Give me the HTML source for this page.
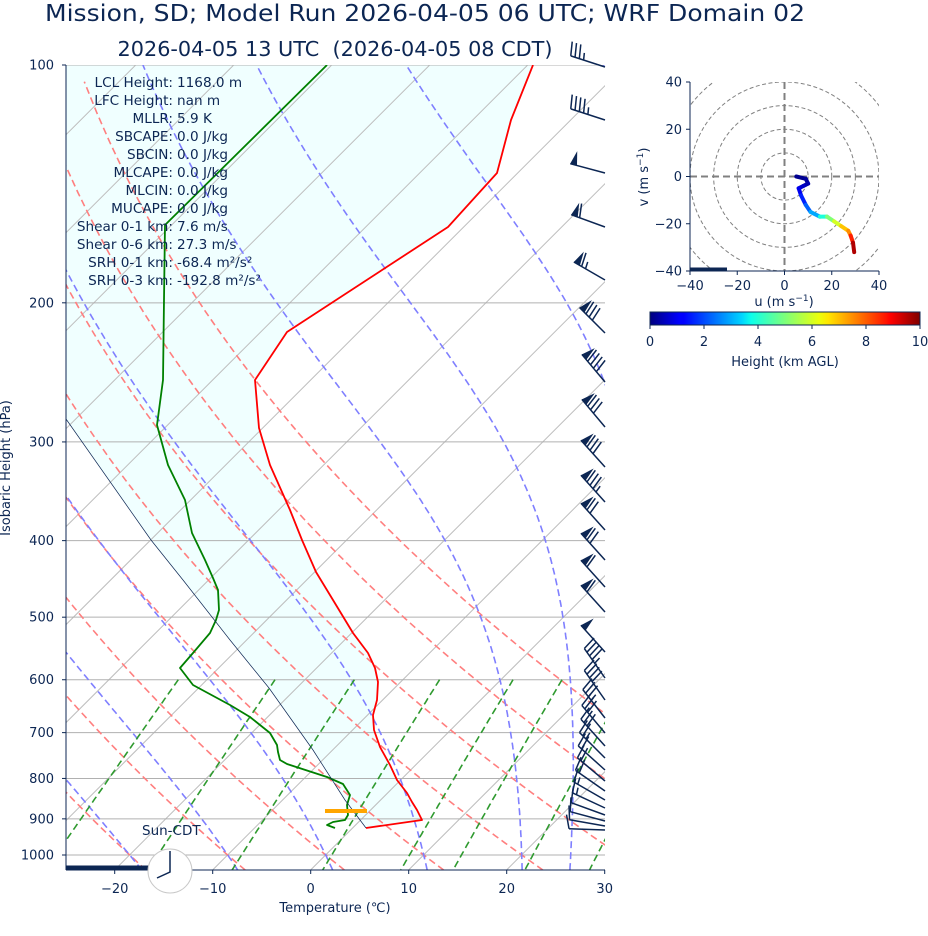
<!DOCTYPE html>
<html><head><meta charset="utf-8"><style>
html,body{margin:0;padding:0;background:#fff;}
svg{display:block;font-family:"DejaVu Sans","Liberation Sans",sans-serif;}
</style></head><body>
<svg id="s" xmlns="http://www.w3.org/2000/svg" width="928" height="936" viewBox="0 0 928 936">
<defs>
<clipPath id="pc"><rect x="66" y="65" width="539" height="805"/></clipPath>
<clipPath id="hc"><rect x="690" y="82" width="189" height="189"/></clipPath>
<linearGradient id="jet" x1="0" x2="1" y1="0" y2="0">
<stop offset="0" stop-color="#00007f"/><stop offset="0.11" stop-color="#0000ff"/>
<stop offset="0.125" stop-color="#0000ff"/><stop offset="0.34" stop-color="#00d4ff"/>
<stop offset="0.375" stop-color="#0dffea"/><stop offset="0.5" stop-color="#7dff7a"/>
<stop offset="0.625" stop-color="#eaff0d"/><stop offset="0.66" stop-color="#ffe600"/>
<stop offset="0.875" stop-color="#ff1300"/><stop offset="0.89" stop-color="#ff0000"/>
<stop offset="1" stop-color="#7f0000"/>
</linearGradient>
</defs>
<g id="plot" clip-path="url(#pc)"></g>
<g id="over"></g>
<g id="hodo"></g>
<g fill="#0c2653">
<text x="425" y="21" font-size="23" text-anchor="middle" textLength="760" lengthAdjust="spacingAndGlyphs">Mission, SD; Model Run 2026-04-05 06 UTC; WRF Domain 02</text>
<text x="335" y="56" font-size="20" text-anchor="middle" textLength="435" lengthAdjust="spacingAndGlyphs">2026-04-05 13 UTC&#160; (2026-04-05 08 CDT)</text>
<text x="335" y="912" font-size="13" text-anchor="middle">Temperature (℃)</text>
<text transform="translate(10,468) rotate(-90)" font-size="13" text-anchor="middle">Isobaric Height (hPa)</text>
<text x="142" y="835" font-size="13.5">Sun-CDT</text>
</g>
</svg>
<script>
(function(){
const NS="http://www.w3.org/2000/svg";
const plot=document.getElementById('plot'),over=document.getElementById('over'),hodo=document.getElementById('hodo');
function el(par,tag,a,txt){const e=document.createElementNS(NS,tag);for(const k in a)e.setAttribute(k,a[k]);if(txt!==undefined)e.textContent=txt;par.appendChild(e);return e;}
const Y=p=>65+(Math.log10(p)-2)*790;
const X=(T,p)=>310.7+T*9.8+(870-Y(p));
function pl(par,pts,a){a.points=pts.map(q=>q[0].toFixed(1)+","+q[1].toFixed(1)).join(" ");a.fill=a.fill||"none";return el(par,"polyline",a);}
const DASH="7,4";
// shading
const Tpts=[[533,65],[511,120],[497,173],[448,227],[287,332],[255,380],[259,428],[270,465],[290,510],[302,540],[316,572],[333,600],[353,633],[368,653],[375,668],[378,682],[377,700],[373,715],[374,730],[380,747],[390,765],[397,780],[407,793],[412,802],[417,810],[422,820],[366,828]];
const Ppts=[[366,828],[345,800],[313,750],[269,688],[230,640],[183,580],[151,540],[66,419],[-184,65]];
el(plot,"polygon",{points:Tpts.concat(Ppts.slice(1)).map(q=>q.join(",")).join(" "),fill:"#f0ffff"});
// isotherms
for(let T=-150;T<=40;T+=10){el(plot,"line",{x1:X(T,1045),y1:870,x2:X(T,100),y2:65,stroke:"#bdbdbd","stroke-width":1});}
// isobars
for(let p=100;p<=1000;p+=100){el(plot,"line",{x1:66,x2:605,y1:Y(p),y2:Y(p),stroke:"#b0b0b0","stroke-width":1});}
// dry adiabats
for(let t0=-100;t0<=50;t0+=10){const th=t0+273.15;const pts=[];for(let p=1045;p>=100;p-=10){pts.push([X(th*Math.pow(p/1000,0.286)-273.15,p),Y(p)]);}
pl(plot,pts,{stroke:"#ff7f7f","stroke-width":1.6,"stroke-dasharray":DASH});}
// moist adiabats
const Rd=287.04,Cp=1005.7,Lv=2.501e6,eps=0.622;
function dTdp(p,T){const es=6.112*Math.exp(17.67*(T-273.15)/(T-29.65));const rs=eps*es/(p-es);return (Rd*T+Lv*rs)/(Cp+Lv*Lv*rs*eps/(Rd*T*T))/p;}
function integ(p0,T0,p1,dp){const out=[[p0,T0]];let p=p0,T=T0;const n=Math.round(Math.abs(p1-p0)/dp);const h=(p1-p0)/n;for(let i=0;i<n;i++){const k1=dTdp(p,T),k2=dTdp(p+h/2,T+h/2*k1),k3=dTdp(p+h/2,T+h/2*k2),k4=dTdp(p+h,T+h*k3);T+=h/6*(k1+2*k2+2*k3+k4);p+=h;out.push([p,T]);}return out;}
[-50,-40,-30,-20,-10,0,10,20,25,30,35].forEach(t0=>{const up=integ(1000,t0+273.15,100,4);const dn=integ(1000,t0+273.15,1045,4);const all=dn.reverse().concat(up.slice(1));
pl(plot,all.map(q=>[X(q[1]-273.15,q[0]),Y(q[0])]),{stroke:"#7f7fff","stroke-width":1.6,"stroke-dasharray":DASH});});
// mixing ratio lines
[0.0004,0.001,0.002,0.004,0.007,0.01,0.016,0.024,0.032].forEach(w=>{const pts=[];for(let p=600;p<=1045;p+=5){const e=p*w/(eps+w);const l=Math.log(e/6.112);pts.push([X(243.5*l/(17.67-l),p),Y(p)]);}
pl(plot,pts,{stroke:"#2f9a2f","stroke-width":1.6,"stroke-dasharray":DASH});});
// profiles
pl(plot,Tpts,{stroke:"#ff0000","stroke-width":1.8,"stroke-linejoin":"round"});
const Dpts=[[327,65],[246,145],[165,225],[164,300],[163,380],[157,425],[168,465],[185,500],[192,533],[205,560],[213,578],[218,590],[219,610],[216,620],[210,633],[193,653],[180,668],[193,685],[230,705],[250,717],[270,733],[277,745],[278,752],[280,760],[287,764],[327,777],[343,784],[350,795],[347,805],[348,815],[345,820],[333,822],[327,825],[335,828]];
pl(plot,Dpts,{stroke:"#008000","stroke-width":1.8,"stroke-linejoin":"round"});
pl(plot,Ppts,{stroke:"#0c2653","stroke-width":0.7});
el(plot,"line",{x1:325,x2:367,y1:811,y2:811,stroke:"#ffa500","stroke-width":4});
el(plot,"line",{x1:66,x2:150,y1:868,y2:868,stroke:"#0c2653","stroke-width":5});
// barbs
function barb(y,dir,kt){const x=605,L=36,r=dir*Math.PI/180,dx=Math.sin(r),dy=-Math.cos(r);const px=-dy,py=dx;
const P=(s,h)=>[x+dx*(L-s)+px*h,y+dy*(L-s)+py*h];
const c="#0c2653";el(over,"line",{x1:x,y1:y,x2:P(0,0)[0],y2:P(0,0)[1],stroke:c,"stroke-width":1.5});
let k=Math.round(kt/5)*5;let pos=0;const n50=Math.floor(k/50);k-=n50*50;const n10=Math.floor(k/10);k-=n10*10;const n5=k>=5?1:0;
for(let i=0;i<n50;i++){const a=P(pos,0),b=P(pos+3.5,14),d=P(pos+7,0);el(over,"polygon",{points:[a,b,d].map(q=>q.join(",")).join(" "),fill:c});pos+=8;}
if(n50>0&&n10+n5>0)pos+=1;
for(let i=0;i<n10;i++){const a=P(pos,0),b=P(pos-3,14);el(over,"line",{x1:a[0],y1:a[1],x2:b[0],y2:b[1],stroke:c,"stroke-width":1.5});pos+=4.5;}
if(n5){if(pos===0)pos=4.5;const a=P(pos,0),b=P(pos-1.5,7);el(over,"line",{x1:a[0],y1:a[1],x2:b[0],y2:b[1],stroke:c,"stroke-width":1.5});}}
[[67,288,35],[120,288,45],[173,285,50],[227,290,60],[280,300,65],[333,315,80],[382,320,90],[427,320,80],[467,318,80],[502,318,85],[530,318,70],[560,318,70],[587,318,60],[612,318,60],[652,318,50],
[678,325,45],[700,325,40],[718,322,35],[733,320,30],[746,318,28],[758,315,25],[770,312,22],[781,310,20],[791,305,18],[800,300,15],[808,295,15],[815,290,12],[821,285,10],[826,280,10],[830,272,10]].forEach(b=>barb(b[0],b[1],b[2]));
// axes
const nv="#0c2653";
el(over,"line",{x1:66,x2:66,y1:65,y2:870,stroke:nv,"stroke-width":1});
el(over,"line",{x1:66,x2:605,y1:870,y2:870,stroke:nv,"stroke-width":1});
[100,200,300,400,500,600,700,800,900,1000].forEach(p=>{el(over,"line",{x1:62,x2:66,y1:Y(p),y2:Y(p),stroke:nv});el(over,"text",{x:54,y:Y(p)+4.5,"font-size":13,"text-anchor":"end",fill:nv},String(p));});
[-20,-10,0,10,20,30].forEach(T=>{const x=310.7+T*9.8;el(over,"line",{x1:x,x2:x,y1:870,y2:874,stroke:nv});el(over,"text",{x:x,y:893,"font-size":13,"text-anchor":"middle",fill:nv},(T<0?"\u2212":"")+Math.abs(T));});
// stats
const st=[["LCL Height","1168.0 m"],["LFC Height","nan m"],["MLLR","5.9 K"],["SBCAPE","0.0 J/kg"],["SBCIN","0.0 J/kg"],["MLCAPE","0.0 J/kg"],["MLCIN","0.0 J/kg"],["MUCAPE","0.0 J/kg"],["Shear 0-1 km","7.6 m/s"],["Shear 0-6 km","27.3 m/s"],["SRH 0-1 km","-68.4 m²/s²"],["SRH 0-3 km","-192.8 m²/s²"]];
st.forEach((s,i)=>{const y=87+18*i;el(over,"text",{x:173,y:y,"font-size":13.6,"text-anchor":"end",fill:nv},s[0]+":");el(over,"text",{x:177,y:y,"font-size":13.6,fill:nv},s[1]);});
// sun clock
el(over,"circle",{cx:170,cy:871,r:22,fill:"#fff",stroke:"#c8c8c8","stroke-width":1});
pl(over,[[170,851],[170,872],[157,878]],{stroke:nv,"stroke-width":1.5});
// hodograph
const HX=u=>784.5+u*2.3625,HY=v=>176.5-v*2.3625;
const hc=el(hodo,"g",{"clip-path":"url(#hc)"});
for(let r=10;r<=60;r+=10)el(hc,"circle",{cx:HX(0),cy:HY(0),r:r*2.3625,fill:"none",stroke:"#808080","stroke-width":1,"stroke-dasharray":"4,2.5"});
el(hc,"line",{x1:690,x2:879,y1:HY(0),y2:HY(0),stroke:"#808080","stroke-width":2,"stroke-dasharray":"7,4"});
el(hc,"line",{y1:82,y2:271,x1:HX(0),x2:HX(0),stroke:"#808080","stroke-width":2,"stroke-dasharray":"7,4"});
const hp=[[5,0,"#00007f"],[9,-1,"#00008f"],[10,-3,"#00009f"],[8,-4,"#0000af"],[6,-5,"#0000c8"],[7,-8,"#0000ef"],[9,-12,"#0020ff"],[11,-15,"#0060ff"],[15,-17,"#00a8ff"],[18,-17,"#1cffdb"],[21,-19,"#80ff77"],[24,-21,"#d4ff23"],[27,-23,"#ffc400"],[28,-25,"#ff8c00"],[29,-28,"#ff2000"],[29.5,-32,"#b00000"]];
for(let i=0;i<hp.length-1;i++){el(hc,"line",{x1:HX(hp[i][0]),y1:HY(hp[i][1]),x2:HX(hp[i+1][0]),y2:HY(hp[i+1][1]),stroke:hp[i+1][2],"stroke-width":4,"stroke-linecap":"round"});}
el(hodo,"line",{x1:690,x2:727,y1:269.5,y2:269.5,stroke:nv,"stroke-width":4});
el(hodo,"line",{x1:690,x2:690,y1:82,y2:271,stroke:nv});
el(hodo,"line",{x1:690,x2:879,y1:271,y2:271,stroke:nv});
[-40,-20,0,20,40].forEach(v=>{el(hodo,"line",{x1:686,x2:690,y1:HY(v),y2:HY(v),stroke:nv});el(hodo,"text",{x:682,y:HY(v)+4.5,"font-size":13,"text-anchor":"end",fill:nv},(v<0?"\u2212":"")+Math.abs(v));
el(hodo,"line",{x1:HX(v),x2:HX(v),y1:271,y2:275,stroke:nv});el(hodo,"text",{x:HX(v),y:290,"font-size":13,"text-anchor":"middle",fill:nv},(v<0?"\u2212":"")+Math.abs(v));});
const ul=el(hodo,"text",{x:784,y:306,"font-size":13,"text-anchor":"middle",fill:nv});ul.innerHTML='u (m s<tspan dy="-5" font-size="9">\u22121</tspan><tspan dy="5">)</tspan>';
const vl=el(hodo,"text",{transform:"translate(648,177) rotate(-90)","font-size":13,"text-anchor":"middle",fill:nv});vl.innerHTML='v (m s<tspan dy="-5" font-size="9">\u22121</tspan><tspan dy="5">)</tspan>';
el(hodo,"rect",{x:650,y:312,width:270,height:13,fill:"url(#jet)",stroke:nv,"stroke-width":1});
[0,2,4,6,8,10].forEach(h=>{const x=650+h*27;el(hodo,"line",{x1:x,x2:x,y1:325,y2:329,stroke:nv});el(hodo,"text",{x:x,y:346,"font-size":13,"text-anchor":"middle",fill:nv},String(h));});
el(hodo,"text",{x:785,y:366,"font-size":13,"text-anchor":"middle",fill:nv},"Height (km AGL)");
})();
</script>
</body></html>
